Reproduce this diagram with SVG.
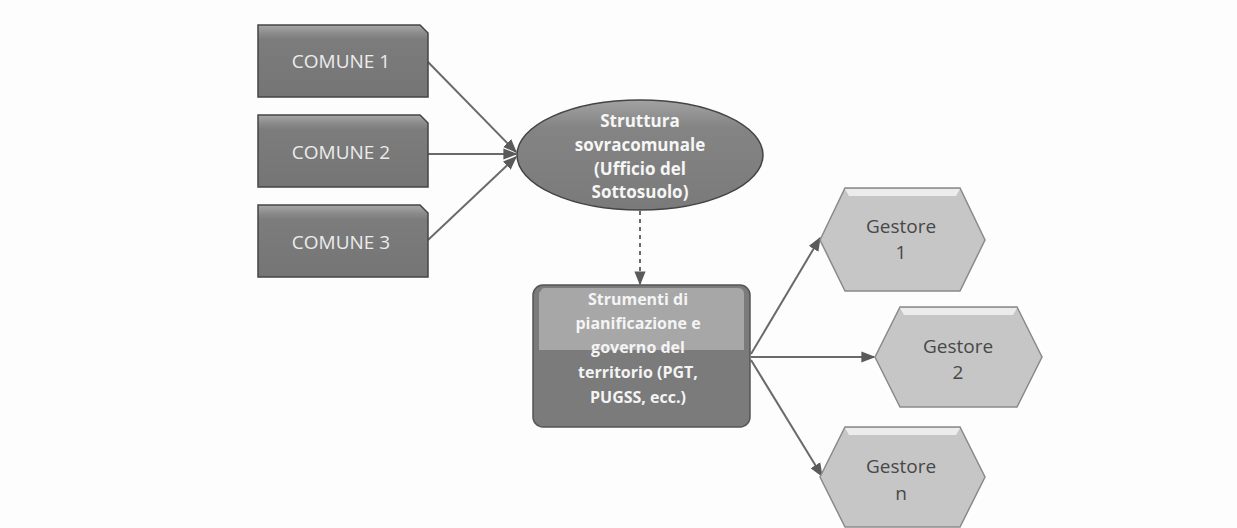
<svg xmlns="http://www.w3.org/2000/svg" width="1237" height="528" viewBox="0 0 1237 528">
<defs>
<style>
.cmtxt{font-family:"Open Sans","Liberation Sans",sans-serif;font-size:19px;fill:#ececec;text-anchor:middle}
.wtxt{font-family:"Open Sans","Liberation Sans",sans-serif;font-size:16px;font-weight:bold;fill:#f4f4f4;text-anchor:middle}
.etxt{font-family:"Open Sans","Liberation Sans",sans-serif;font-size:17px;font-weight:bold;fill:#f6f6f6;text-anchor:middle}
.gtxt{font-family:"Open Sans","Liberation Sans",sans-serif;font-size:19px;fill:#484848;text-anchor:middle}
.conn{stroke:#6a6a6a;stroke-width:2;fill:none}
.comune{fill:url(#gC);stroke:#444;stroke-width:1.5}
.hex{fill:#c6c6c6;stroke:#8a8a8a;stroke-width:1.5}
.hexhl{fill:#ececec}
</style>
<linearGradient id="gC" x1="0" y1="0" x2="0" y2="1">
<stop offset="0" stop-color="#a8a8a8"/>
<stop offset="0.12" stop-color="#8a8a8a"/>
<stop offset="0.2" stop-color="#7c7c7c"/>
<stop offset="1" stop-color="#757575"/>
</linearGradient>
<linearGradient id="gE" x1="0" y1="0" x2="0" y2="1">
<stop offset="0" stop-color="#a2a2a2"/>
<stop offset="0.25" stop-color="#848484"/>
<stop offset="1" stop-color="#7a7a7a"/>
</linearGradient>
<marker id="arr" viewBox="0 0 10 10" refX="9" refY="5" markerWidth="7" markerHeight="7" orient="auto-start-reverse">
<path d="M0,1 L10,5 L0,9 z" fill="#5a5a5a"/>
</marker>
</defs>
<rect x="0" y="0" width="1237" height="528" fill="#fdfdfd"/>

<g id="connectors">
<line class="conn" x1="428" y1="62" x2="516" y2="152" marker-end="url(#arr)"/>
<line class="conn" x1="428" y1="154" x2="516" y2="154" marker-end="url(#arr)"/>
<line class="conn" x1="428" y1="240" x2="516" y2="157" marker-end="url(#arr)"/>
<line class="conn" x1="640" y1="211" x2="640" y2="284" stroke-dasharray="4,4" marker-end="url(#arr)"/>
<line class="conn" x1="751" y1="354" x2="820" y2="238" marker-end="url(#arr)"/>
<line class="conn" x1="751" y1="357" x2="874" y2="357" marker-end="url(#arr)"/>
<line class="conn" x1="751" y1="360" x2="822" y2="476" marker-end="url(#arr)"/>
</g>

<g id="comune1">
<path class="comune" d="M258,25 H420 L428,33 V97 H258 Z"/>
<text class="cmtxt" x="341" y="68">COMUNE 1</text>
</g>
<g id="comune2">
<path class="comune" d="M258,115 H420 L428,123 V187 H258 Z"/>
<text class="cmtxt" x="341" y="159">COMUNE 2</text>
</g>
<g id="comune3">
<path class="comune" d="M258,205 H420 L428,213 V277 H258 Z"/>
<text class="cmtxt" x="341" y="249">COMUNE 3</text>
</g>

<g id="struttura">
<ellipse cx="640" cy="155" rx="123" ry="55" fill="url(#gE)" stroke="#444" stroke-width="1.5"/>
<text class="etxt" x="640" y="127">Struttura</text>
<text class="etxt" x="640" y="151">sovracomunale</text>
<text class="etxt" x="640" y="175">(Ufficio del</text>
<text class="etxt" x="640" y="198">Sottosuolo)</text>
</g>

<g id="strumenti">
<rect x="533" y="285" width="217" height="142" rx="10" fill="#7b7b7b" stroke="#555" stroke-width="1.5"/>
<path d="M541,291 Q541,288 545,288 H738 Q744,288 744,294 V350 H539 V296 Q539,291 541,291 Z" fill="#a7a7a7"/>
<text class="wtxt" x="638" y="305">Strumenti di</text>
<text class="wtxt" x="638" y="329">pianificazione e</text>
<text class="wtxt" x="638" y="353">governo del</text>
<text class="wtxt" x="638" y="378">territorio (PGT,</text>
<text class="wtxt" x="638" y="403">PUGSS, ecc.)</text>
</g>

<g id="gestore1">
<polygon class="hex" points="820,240 845,188 960,188 985,240 960,291 845,291"/>
<polygon class="hexhl" points="845,189 960,189 956,196 849,196"/>
<text class="gtxt" x="901" y="233">Gestore</text>
<text class="gtxt" x="901" y="259">1</text>
</g>
<g id="gestore2">
<polygon class="hex" points="875,357 900,307 1017,307 1042,357 1017,407 900,407"/>
<polygon class="hexhl" points="900,308 1017,308 1013,315 904,315"/>
<text class="gtxt" x="958" y="353">Gestore</text>
<text class="gtxt" x="958" y="379">2</text>
</g>
<g id="gestoren">
<polygon class="hex" points="820,477 845,427 960,427 985,477 960,527 845,527"/>
<polygon class="hexhl" points="845,428 960,428 956,435 849,435"/>
<text class="gtxt" x="901" y="473">Gestore</text>
<text class="gtxt" x="901" y="500">n</text>
</g>
</svg>
